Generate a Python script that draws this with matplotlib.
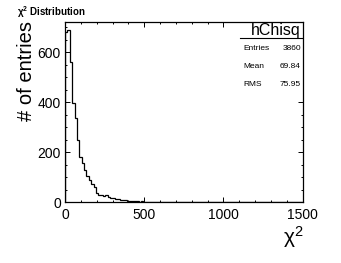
import numpy as np
import matplotlib
matplotlib.use("Agg")
import matplotlib.pyplot as plt
from matplotlib.patches import Rectangle
from matplotlib.ticker import MultipleLocator

plt.rcParams['font.family'] = ['Liberation Sans', 'DejaVu Sans']
plt.rcParams['mathtext.fontset'] = 'custom'
plt.rcParams['mathtext.rm'] = 'Liberation Sans'
plt.rcParams['mathtext.default'] = 'regular'

# histogram: 100 bins of width 15 on [0, 1500]
bin_edges = np.linspace(0, 1500, 101)
counts_head = [680, 690, 560, 395, 335, 250, 180, 155, 128, 105,
               88, 72, 60, 38, 30, 28, 24, 27, 20, 18,
               15, 13, 11, 9, 8, 7, 6, 5, 4, 4,
               3, 2, 3, 2, 1, 2, 1, 1, 0, 1,
               1, 0, 0, 0, 1]
counts = np.zeros(100)
counts[:len(counts_head)] = counts_head

hist_name = "hChisq"
stat_names = ["Entries", "Mean", "RMS"]
stat_values = ["3860", "69.84", "75.95"]

fig = plt.figure(figsize=(3.41, 2.63), dpi=100)
ax = fig.add_axes([65 / 341, 1 - 202 / 263, 237.5 / 341, 180 / 263])

ax.stairs(counts, bin_edges, color='black', linewidth=0.9)
ax.set_xlim(0, 1500)
ax.set_ylim(0, 720)

ax.xaxis.set_major_locator(MultipleLocator(500))
ax.xaxis.set_minor_locator(MultipleLocator(100))
ax.yaxis.set_major_locator(MultipleLocator(200))
ax.yaxis.set_minor_locator(MultipleLocator(50))
ax.tick_params(which='both', direction='in', top=True, right=True, width=0.7,
               labelsize=10)
ax.tick_params(which='major', length=3.5)
ax.tick_params(which='minor', length=1.7)
ax.tick_params(axis='x', pad=4)
ax.tick_params(axis='y', pad=3)
for s in ax.spines.values():
    s.set_linewidth(0.9)
    s.set_zorder(5)

# stats box
ax.add_patch(Rectangle((0.72, 0.595), 0.28, 0.405, transform=ax.transAxes,
                       facecolor='white', edgecolor='none', zorder=4))
ax.plot([(240 - 65) / 237.5, 1.0], [(202 - 38.3) / 180] * 2, transform=ax.transAxes,
        color='black', linewidth=0.8, zorder=5)
fig.text(301 / 341, 1 - 31 / 263, hist_name, ha='right', va='center', fontsize=11.5)
for i, (n, v) in enumerate(zip(stat_names, stat_values)):
    y = 1 - (48.5 + 17.8 * i) / 263
    fig.text(243 / 341, y, n, ha='left', va='center', fontsize=6)
    fig.text(301 / 341, y, v, ha='right', va='center', fontsize=6)

# labels
fig.text(17 / 341, 1 - 12 / 263, "χ$^{2}$ Distribution", ha='left', va='center',
         fontsize=7, fontweight='bold')
fig.text(27 / 341, 1 - 21 / 263, "# of entries", rotation=90, ha='center', va='top',
         fontsize=14.5)
fig.text(304 / 341, 1 - 237 / 263, "χ$^{2}$", ha='right', va='center', fontsize=15)

fig.savefig("out.png", dpi=100)
